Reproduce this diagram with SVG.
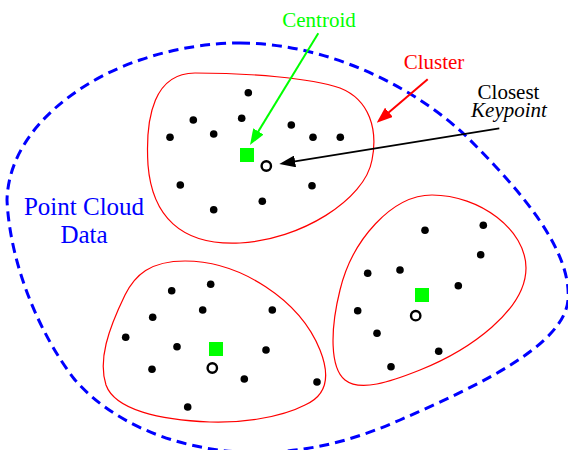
<svg xmlns="http://www.w3.org/2000/svg" width="568" height="450" viewBox="0 0 568 450">
<style>
.cl{fill:none;stroke:#ff0000;stroke-width:1.2}
.pt{fill:#000}
.ctr{fill:#00ff00}
.kp{fill:#fff;stroke:#000;stroke-width:2.4}
.lbl{font-family:"Liberation Serif","Times New Roman",serif;font-size:21px;text-anchor:middle}
</style>
<defs>
<marker id="ag" markerUnits="userSpaceOnUse" markerWidth="16" markerHeight="12" refX="8" refY="6" orient="auto"><path d="M0,0 L16,6 L0,12 z" fill="#00ff00"/></marker>
<marker id="ar" markerUnits="userSpaceOnUse" markerWidth="16" markerHeight="12" refX="8" refY="6" orient="auto"><path d="M0,0 L16,6 L0,12 z" fill="#ff0000"/></marker>
<marker id="ak" markerUnits="userSpaceOnUse" markerWidth="16" markerHeight="12" refX="8" refY="6" orient="auto"><path d="M0,0 L16,6 L0,12 z" fill="#000"/></marker>
</defs>
<rect width="568" height="450" fill="#fff"/>
<g id="cloud">
<path d="M240,43 C330,43 420,90 470,140 C520,190 572,250 568,300 C564,345 480,385 400,420 C350,442 300,455 240,452 C170,448 110,420 75,380 C40,335 10,265 7,200 C9,130 80,80 140,60 C175,48 210,43 240,43 Z" fill="none" stroke="#0000ff" stroke-width="3" stroke-dasharray="10,6"/>
<text class="lbl" x="84" y="215" fill="#0000ff" style="font-size:25px">Point Cloud</text>
<text class="lbl" x="84" y="243" fill="#0000ff" style="font-size:25px">Data</text>
</g>
<g id="cluster1">
<path class="cl" d="M195,73 C250,73 310,78 340,88 C370,100 378,130 372,160 C365,200 300,240 240,243 C180,246 152,215 148,165 C145,115 155,73 195,73 Z"/>
<circle class="pt" cx="248.3" cy="92.7" r="3.8"/>
<circle class="pt" cx="193.3" cy="120" r="3.8"/>
<circle class="pt" cx="241.7" cy="118.3" r="3.8"/>
<circle class="pt" cx="170" cy="137.3" r="3.8"/>
<circle class="pt" cx="213.7" cy="134" r="3.8"/>
<circle class="pt" cx="291.3" cy="125" r="3.8"/>
<circle class="pt" cx="313" cy="137.3" r="3.8"/>
<circle class="pt" cx="340.3" cy="137.3" r="3.8"/>
<circle class="pt" cx="180.3" cy="185" r="3.8"/>
<circle class="pt" cx="312" cy="185.7" r="3.8"/>
<circle class="pt" cx="213.7" cy="209.7" r="3.8"/>
<circle class="pt" cx="262.3" cy="201.3" r="3.8"/>
<rect class="ctr" x="240" y="148" width="14" height="14"/>
<circle class="kp" cx="266.3" cy="166" r="4.7"/>
</g>
<g id="cluster2">
<path class="cl" d="M432,195 C480,195 526,230 526,268 C526,310 470,350 420,370 C390,382 360,392 345,380 C330,368 330,330 340,290 C352,240 392,195 432,195 Z"/>
<circle class="pt" cx="425" cy="230.3" r="3.8"/>
<circle class="pt" cx="483.3" cy="225.3" r="3.8"/>
<circle class="pt" cx="480.7" cy="254.7" r="3.8"/>
<circle class="pt" cx="367.7" cy="273.3" r="3.8"/>
<circle class="pt" cx="400" cy="270" r="3.8"/>
<circle class="pt" cx="458.3" cy="285.7" r="3.8"/>
<circle class="pt" cx="357.7" cy="310.7" r="3.8"/>
<circle class="pt" cx="377" cy="333.3" r="3.8"/>
<circle class="pt" cx="438.7" cy="351.3" r="3.8"/>
<circle class="pt" cx="391" cy="366.7" r="3.8"/>
<rect class="ctr" x="415" y="288" width="14" height="14"/>
<circle class="kp" cx="415.7" cy="315.7" r="4.7"/>
</g>
<g id="cluster3">
<path class="cl" d="M185,261 C240,261 300,300 320,350 C330,375 328,395 305,405 C280,418 240,423 210,422 C160,420 115,410 106,385 C98,360 108,330 125,295 C135,275 150,261 185,261 Z"/>
<circle class="pt" cx="171.7" cy="290.7" r="3.8"/>
<circle class="pt" cx="210.7" cy="284.3" r="3.8"/>
<circle class="pt" cx="152.7" cy="317.3" r="3.8"/>
<circle class="pt" cx="202.7" cy="310" r="3.8"/>
<circle class="pt" cx="272.3" cy="310" r="3.8"/>
<circle class="pt" cx="125.7" cy="337.3" r="3.8"/>
<circle class="pt" cx="177" cy="346.7" r="3.8"/>
<circle class="pt" cx="266" cy="350" r="3.8"/>
<circle class="pt" cx="152" cy="369.3" r="3.8"/>
<circle class="pt" cx="244.3" cy="379" r="3.8"/>
<circle class="pt" cx="317" cy="382" r="3.8"/>
<circle class="pt" cx="187.7" cy="407" r="3.8"/>
<rect class="ctr" x="209" y="342" width="14" height="14"/>
<circle class="kp" cx="212.3" cy="368" r="4.7"/>
</g>
<g id="label-centroid"><text class="lbl" x="319" y="26.5" fill="#00ff00">Centroid</text></g>
<g id="label-cluster"><text class="lbl" x="434" y="68.5" fill="#ff0000">Cluster</text></g>
<g id="label-keypoint">
<text class="lbl" fill="#000"><tspan x="508.5" y="99">Closest</tspan><tspan x="509" y="116.5" font-style="italic">Keypoint</tspan></text>
</g>
<g id="connectors" fill="none" stroke-width="2">
<line x1="318.3" y1="33.3" x2="254.2" y2="138.2" stroke="#00ff00" marker-end="url(#ag)"/>
<line x1="427.7" y1="79.3" x2="382.8" y2="117.5" stroke="#ff0000" marker-end="url(#ar)"/>
<line x1="499.3" y1="128.3" x2="287.2" y2="162.7" stroke="#000" stroke-width="1.7" marker-end="url(#ak)"/>
</g>
</svg>
